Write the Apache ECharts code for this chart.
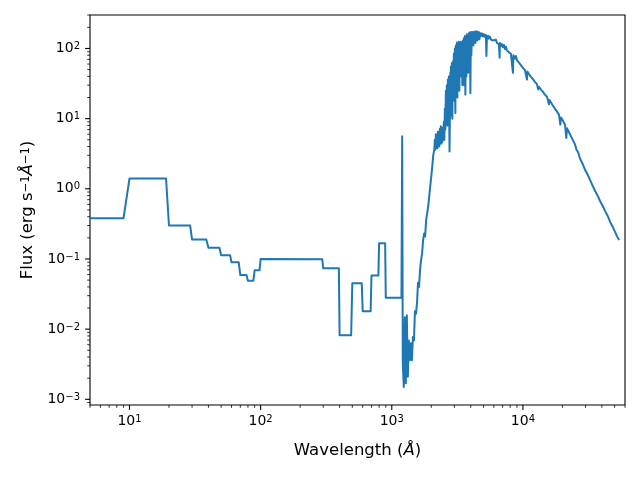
<!DOCTYPE html>
<html><head><meta charset="utf-8">
<script src="https://cdn.jsdelivr.net/npm/echarts@6/dist/echarts.min.js"></script>
<style>html,body{margin:0;padding:0;background:#fff}#c{width:640px;height:480px}</style>
</head><body><div id="c"></div>
<script>
// Wavelength (Angstrom) and flux values
const wavelength = [
  5,9,10,19,20,29,30,38.5,40,48.5,50,58.5,60,68,70,78,80,88,90,98,100,295,300,395,400,490,500,590,600,690,700,790,800,890,900,1185,1200,1213,
  1235,1257,1280,1302,1326,1349,1374,1399,1424,1449,1476,1502,1529,1557,1585,1614,1642,1672,1702,1733,1764,1796,1828,1861,1895,1929,1964,2000,2036,2072,2110,
  2129,2148,2167,2187,2206,2226,2245,2265,2285,2305,2325,2345,2366,2387,2408,2429,2451,2472,2494,2516,2539,2561,2584,2606,2629,2652,2676,2699,2723,2756,2796,2810,
  2821,2846,2871,2896,2921,2947,2973,2999,3026,3053,3080,3107,3134,3162,3190,3218,3247,3275,3304,3333,3363,3392,3422,3452,3483,3514,3545,3576,3608,3640,3672,3704,
  3737,3770,3803,3837,3871,3905,3939,3974,4009,4044,4080,4116,4153,4190,4227,4264,4302,4340,4378,4417,4456,4495,4535,4575,4616,4656,
  4697,4781,4865,4952,5040,5130,5220,5265,5313,5407,5503,5601,5700,5800,5904,6008,6113,6224,6333,6445,
  6560,6640,6674,6793,6913,7035,7160,7287,7416,7546,7681,7817,7958,8098,8240,8390,8460,8536,8688,8841,
  9000,9157,9320,9487,9655,9826,9999,10177,10358,10540,10728,10820,10917,11110,11309,11510,11713,11920,12131,12348,
  12566,12790,13015,13080,13250,13484,13720,13965,14210,14465,14722,14982,15250,15518,15790,15930,16075,16360,16648,16940,
  17244,17554,17862,18180,18500,18830,19166,19270,19500,19851,20200,20560,20925,21296,21410,21670,22060,22450,22850,23250,
  23665,24080,24512,24947,25390,25610,26300,27237,28710,29740,31350,32470,34200,35450,37370,38705,40800,42270,44560,46150,
  48640,50390,52200,54040
];
const flux = [
  0.38,0.38,1.4,1.4,0.30,0.30,0.19,0.19,0.145,0.145,0.113,0.113,0.090,0.090,0.059,0.059,0.049,0.049,0.069,0.069,0.100,0.099,0.074,0.074,0.0082,0.0082,0.045,0.045,0.018,0.018,0.058,0.058,0.168,0.168,0.028,0.028,5.6,0.0033,
  0.0015,0.0148,0.0017,0.0158,0.0021,0.0069,0.0036,0.0063,0.0036,0.0077,0.0069,0.018,0.0166,0.0235,0.046,0.040,0.070,0.096,0.12,0.186,0.23,0.21,0.36,0.45,0.56,0.78,1.08,1.5,2.1,3.05,3.6,
  5.0,3.6,6.0,4.0,5.5,3.8,6.5,4.2,6.0,4.0,7.2,4.5,7.8,4.4,6.5,4.6,7.5,5.0,9.0,5.0,14,7,25,9,30,8,36,12,40,3.4,45,11,
  55,14,62,10,65,20,85,18,100,12,110,25,122,20,115,30,125,25,118,50,125,40,110,30,130,45,140,30,150,22,145,40,
  160,60,155,45,165,90,170,23,168,80,172,120,170,110,172,130,175,120,173,140,175,130,172,145,170,135,
  166,150,164,148,160,146,156,78,142,152,138,148,134,143,130,138,124,133,120,128,
  115,74,120,108,116,104,112,98,106,94,100,88,93,84,88,45,80,83,72,78,
  68,72,63,66,58,61,53,56,49,52,36,47,48.5,43,45,39.5,41.5,36.5,38,33.5,
  35,31,32,26,28.5,29.5,26,27,24,25,22,23,20.5,21,16,18.5,19,17,17.2,15.3,
  15.6,13.8,14.2,12.6,12.8,11.4,11.4,8.2,10.4,10.5,9.3,9.2,8.2,8.0,5.3,7.3,7.3,6.4,6.3,5.6,
  5.5,4.9,4.9,4.3,4.2,3.6,3.35,2.7,2.2,1.87,1.55,1.34,1.08,0.94,0.78,0.67,0.56,0.485,0.40,0.34,
  0.28,0.243,0.21,0.187
];
const xMajorTicks = [10, 100, 1000, 10000];
const yMajorTicks = [0.001, 0.01, 0.1, 1, 10, 100];
const xRange = [5, 60000];
const yRange = [8.3e-4, 300];

function tickList(range) {
  const out = [];
  for (let e = -5; e <= 6; e++) {
    for (let k = 1; k <= 9; k++) {
      const v = k * Math.pow(10, e);
      if (v >= range[0] * 0.999999 && v <= range[1] * 1.000001) out.push([v, k === 1 ? 1 : 0]);
    }
  }
  return out;
}
function powLabel(v, majors) {
  const hit = majors.find(m => Math.abs(m - v) / m < 1e-6);
  if (hit === undefined) return '';
  const e = Math.round(Math.log10(hit));
  const es = e < 0 ? '\u2212' + (-e) : String(e);
  return '{b|10}{s|' + es + '}';
}
const labelRich = {
  b: {fontSize: 14, fontFamily: 'DejaVu Sans', color: '#000', lineHeight: 14, padding: [3, 0, 0, 0], verticalAlign: 'bottom'},
  s: {fontSize: 10, fontFamily: 'DejaVu Sans', color: '#000', lineHeight: 10, verticalAlign: 'top'}
};
const nameRich = {
  t: {fontSize: 16.5, fontFamily: 'DejaVu Sans', color: '#000', lineHeight: 17, padding: [4, 0, 0, 0], verticalAlign: 'bottom'},
  i: {fontSize: 16.5, fontFamily: 'DejaVu Sans', fontStyle: 'italic', color: '#000', lineHeight: 17, padding: [4, 0, 0, 0], verticalAlign: 'bottom'},
  s: {fontSize: 11.5, fontFamily: 'DejaVu Sans', color: '#000', lineHeight: 11, verticalAlign: 'top'}
};

const chart = echarts.init(document.getElementById('c'), null, {renderer: 'canvas'});
const lineData = wavelength.map((w, i) => [w, flux[i]]);
const xTicks = tickList(xRange);
const yTicks = tickList(yRange);

chart.setOption({
  animation: false,
  backgroundColor: '#fff',
  grid: {left: 90, right: 15, top: 15, bottom: 75, show: true, borderColor: '#000', borderWidth: 1.1, backgroundColor: 'transparent', containLabel: false, outerBoundsMode: 'none'},
  xAxis: {
    type: 'log', logBase: 10, min: xRange[0], max: xRange[1],
    axisLine: {show: false}, axisTick: {show: false}, splitLine: {show: false}, minorTick: {show: false},
    axisLabel: {margin: 9, hideOverlap: false, showMinLabel: true, showMaxLabel: true, formatter: v => powLabel(v, xMajorTicks), rich: labelRich},
    name: '{t|Wavelength (}{i|\u00C5}{t|)}', nameLocation: 'middle', nameGap: 37,
    nameTextStyle: {rich: nameRich}
  },
  yAxis: {
    type: 'log', logBase: 10, min: yRange[0], max: yRange[1],
    axisLine: {show: false}, axisTick: {show: false}, splitLine: {show: false}, minorTick: {show: false},
    axisLabel: {margin: 10, hideOverlap: false, formatter: v => powLabel(v, yMajorTicks), rich: labelRich},
    name: '{t|Flux (erg s}{s|\u22121}{i|\u00C5}{s|\u22121}{t|)}', nameLocation: 'middle', nameGap: 49, nameRotate: 90,
    nameTextStyle: {rich: nameRich}
  },
  series: [
    {
      type: 'line', data: lineData, showSymbol: false, symbol: 'none', clip: true, silent: true,
      lineStyle: {color: '#1f77b4', width: 2, join: 'round', cap: 'butt'}, z: 3
    },
    {
      type: 'custom', silent: true, clip: false, z: 5,
      data: xTicks.map(t => [t[0], yRange[0], t[1]]),
      renderItem: (params, api) => {
        const p = api.coord([api.value(0), yRange[0]]);
        const major = api.value(2) === 1;
        const len = major ? 4.9 : 2.8;
        return {type: 'line', shape: {x1: p[0], y1: p[1], x2: p[0], y2: p[1] + len}, style: {stroke: '#000', lineWidth: major ? 1.1 : 0.8}};
      }
    },
    {
      type: 'custom', silent: true, clip: false, z: 5,
      data: yTicks.map(t => [xRange[0], t[0], t[1]]),
      renderItem: (params, api) => {
        const p = api.coord([xRange[0], api.value(1)]);
        const major = api.value(2) === 1;
        const len = major ? 4.9 : 2.8;
        return {type: 'line', shape: {x1: p[0], y1: p[1], x2: p[0] - len, y2: p[1]}, style: {stroke: '#000', lineWidth: major ? 1.1 : 0.8}};
      }
    }
  ]
});
</script>
</body></html>
